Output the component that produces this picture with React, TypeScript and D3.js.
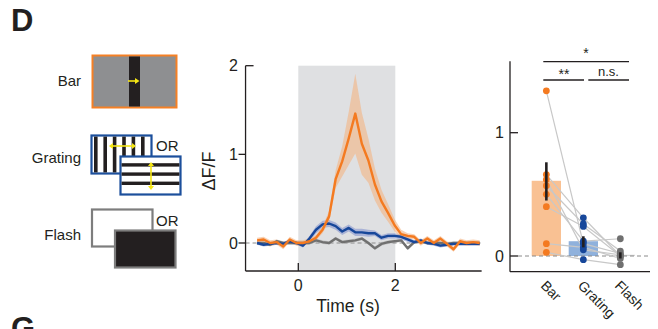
import React from "react";
import * as d3 from "d3";

// ---------- DATA ----------
const T0 = -0.85;
const DT = 0.135;
const orangeMean = [0.03, 0.04, 0.0, 0.01, -0.04, 0.04, 0.0, 0.0, 0.02, 0.06, 0.15, 0.3, 0.72, 0.92, 1.18, 1.46, 1.12, 0.93, 0.66, 0.47, 0.34, 0.2, 0.1, 0.08, 0.07, 0.0, 0.05, 0.0, 0.05, -0.01, -0.07, 0.02, 0.0, 0.01, 0.0];
const orangeSem = [0.03, 0.03, 0.03, 0.03, 0.03, 0.03, 0.03, 0.03, 0.03, 0.03, 0.04, 0.06, 0.1, 0.17, 0.3, 0.45, 0.35, 0.25, 0.18, 0.13, 0.1, 0.07, 0.05, 0.03, 0.03, 0.03, 0.03, 0.03, 0.03, 0.03, 0.03, 0.03, 0.03, 0.03, 0.03];
const blueMean = [0.0, -0.02, -0.01, 0.0, -0.01, 0.02, 0.0, -0.03, 0.05, 0.15, 0.21, 0.22, 0.19, 0.13, 0.17, 0.12, 0.12, 0.11, 0.11, 0.06, 0.08, 0.08, 0.07, 0.04, 0.01, 0.03, 0.0, -0.01, -0.03, -0.02, -0.01, -0.01, -0.01, -0.01, -0.01];
const blueSem = [0.02, 0.02, 0.02, 0.02, 0.02, 0.02, 0.02, 0.02, 0.03, 0.04, 0.04, 0.04, 0.04, 0.04, 0.04, 0.04, 0.04, 0.04, 0.03, 0.03, 0.03, 0.03, 0.03, 0.03, 0.02, 0.02, 0.02, 0.02, 0.02, 0.02, 0.02, 0.02, 0.02, 0.02, 0.02];
const grayMean = [0.0, 0.0, -0.02, 0.02, 0.0, 0.0, 0.0, 0.0, 0.0, 0.03, 0.01, 0.0, 0.05, 0.01, 0.02, 0.03, 0.05, 0.0, -0.06, -0.01, 0.01, 0.02, 0.03, -0.06, 0.01, 0.02, 0.0, 0.0, 0.0, -0.01, 0.0, 0.0, 0.0, 0.0, 0.0];
const graySem = grayMean.map(() => 0.02);
const timeTicks = [0, 2];
const dffTicks = [0, 1, 2];
const stimWindow = [0, 2];

const categories = ["Bar", "Grating", "Flash"];
const barMeans = [0.61, 0.12, 0.01];
const barErrLo = [0.45, 0.07, -0.02];
const barErrHi = [0.76, 0.16, 0.03];
const subjBar = [1.34, 0.66, 0.62, 0.57, 0.5, 0.4, 0.1, 0.03];
const subjGrating = [0.1, 0.31, 0.05, 0.26, 0.12, 0.24, 0.07, -0.03];
const subjFlash = [0.02, 0.0, 0.01, 0.04, 0.14, 0.0, -0.02, -0.07];
const rightTicks = [0, 1];
const sigLabels = ["*", "**", "n.s."];

// ---------- STYLE ----------
const ORANGE = "#f47a20";
const BLUE = "#17479a";
const GRAY = "#707070";
const FONT = "'Liberation Sans', Arial, sans-serif";

export default function App() {
  const times = orangeMean.map((_, i) => T0 + i * DT);
  const xT = d3.scaleLinear().domain([0, 2]).range([298.3, 395.3]);
  const yM = d3.scaleLinear().domain([0, 2]).range([243, 65.7]);
  const yMin = -0.316;
  const xMinT = -1.1;
  const xMaxT = 3.78;

  const line = (vals: number[]) =>
    d3.line<number>().x((_, i) => xT(times[i])).y((v) => yM(v))(vals) || "";
  const band = (vals: number[], sem: number[]) =>
    d3
      .area<number>()
      .x((_, i) => xT(times[i]))
      .y0((v, i) => yM(v - sem[i]))
      .y1((v, i) => yM(v + sem[i]))(vals) || "";

  const xB = d3.scaleBand<string>().domain(categories).range([531.7, 635]).paddingInner(0.208).paddingOuter(0);
  const yR = d3.scaleLinear().domain([0, 1]).range([256, 132.7]);
  const cx = (c: string) => (xB(c) as number) + xB.bandwidth() / 2;
  const subjects = subjBar.map((b, i) => [b, subjGrating[i], subjFlash[i]]);
  const dotColors = [ORANGE, BLUE, GRAY];
  const barFills = ["#f9c193", "#8fb1dc", "#d6d6d6"];

  const axisL = xT(xMinT) + 0.6; // ~245
  const axisR = xT(xMaxT);
  const axisBottom = yM(yMin);
  const rAxisX = 510;
  const rBottom = yR(-0.127);
  const rTop = yR(1.58);

  return (
    <svg
      width={658}
      height={329}
      style={{ position: "absolute", left: 0, top: 0, background: "#fff" }}
      fontFamily={FONT}
    >
      {/* Panel letters */}
      <text x={11} y={31} fontSize={31} fontWeight="bold" fill="#231f20">D</text>
      <text x={11} y={339} fontSize={31} fontWeight="bold" fill="#231f20">G</text>

      {/* ---- Stimulus icons ---- */}
      <g fontSize={15} fill="#231f20">
        <text x={81} y={86} textAnchor="end">Bar</text>
        <text x={81} y={163} textAnchor="end">Grating</text>
        <text x={81} y={240} textAnchor="end">Flash</text>
        <text x={156} y={151}>OR</text>
        <text x={156} y={226}>OR</text>
      </g>
      {/* Bar stimulus */}
      <rect x={92.5} y={55.5} width={84} height={52} fill="#8e8f91" stroke="#f58025" strokeWidth={2} />
      <rect x={129} y={56.5} width={11} height={50} fill="#231f20" />
      <line x1={128} x2={136} y1={81} y2={81} stroke="#f5e614" strokeWidth={1.6} />
      <path d="M135,78 L139.5,81 L135,84 Z" fill="#f5e614" />
      {/* Grating vertical */}
      <rect x={91.5} y={135.5} width={60} height={38} fill="#fff" stroke="#1c4f9c" strokeWidth={2.2} />
      {d3.range(6).map((k) => (
        <rect key={"vs" + k} x={94 + k * 9.4} y={136.6} width={3.6} height={35.8} fill="#231f20" />
      ))}
      <line x1={112} x2={133} y1={146} y2={146} stroke="#f5e614" strokeWidth={1.6} />
      <path d="M113,143 L109,146 L113,149 Z" fill="#f5e614" />
      <path d="M132,143 L136,146 L132,149 Z" fill="#f5e614" />
      {/* Grating horizontal */}
      <rect x={120.5} y={156.5} width={60} height={38} fill="#fff" stroke="#1c4f9c" strokeWidth={2.2} />
      {d3.range(3).map((k) => (
        <rect key={"hs" + k} x={121.6} y={163.2 + k * 9.2} width={57.8} height={3.4} fill="#231f20" />
      ))}
      <line x1={151} x2={151} y1={165} y2={187} stroke="#f5e614" strokeWidth={1.6} />
      <path d="M148,166 L151,162 L154,166 Z" fill="#f5e614" />
      <path d="M148,186 L151,190 L154,186 Z" fill="#f5e614" />
      {/* Flash */}
      <rect x={92} y={209.5} width={60.5} height={37} fill="#fff" stroke="#7d7d7d" strokeWidth={2.2} />
      <rect x={115} y={230.5} width={60.5} height={37} fill="#231f20" stroke="#7d7d7d" strokeWidth={2.2} />

      {/* ---- Middle time-course chart ---- */}
      <rect
        x={xT(stimWindow[0])}
        y={yM(2)}
        width={xT(stimWindow[1]) - xT(stimWindow[0])}
        height={axisBottom - yM(2)}
        fill="#dfe0e2"
      />
      <line x1={axisL} x2={axisR} y1={yM(0)} y2={yM(0)} stroke="#8a8a8a" strokeWidth={1} strokeDasharray="4,3" />
      <path d={band(grayMean, graySem)} fill="#b9b9b9" opacity={0.6} />
      <path d={band(blueMean, blueSem)} fill="#8d9bd0" opacity={0.65} />
      <path d={band(orangeMean, orangeSem)} fill="#f3b483" opacity={0.6} />
      <path d={line(grayMean)} fill="none" stroke={GRAY} strokeWidth={2.4} strokeLinejoin="round" />
      <path d={line(blueMean)} fill="none" stroke={BLUE} strokeWidth={2.4} strokeLinejoin="round" />
      <path d={line(orangeMean)} fill="none" stroke={ORANGE} strokeWidth={2.4} strokeLinejoin="round" />
      {/* axes */}
      <line x1={axisL} x2={axisL} y1={yM(2)} y2={axisBottom} stroke="#231f20" strokeWidth={1.3} />
      <line x1={axisL} x2={axisR} y1={axisBottom} y2={axisBottom} stroke="#231f20" strokeWidth={1.3} />
      {dffTicks.map((t) => (
        <g key={"yt" + t}>
          <line
            x1={t === 2 ? axisL : axisL - 7}
            x2={t === 2 ? axisL + 8 : axisL}
            y1={yM(t)}
            y2={yM(t)}
            stroke="#231f20"
            strokeWidth={1.3}
          />
          <text x={238} y={yM(t) + 5.5} textAnchor="end" fontSize={16} fill="#231f20">{t}</text>
        </g>
      ))}
      {timeTicks.map((t) => (
        <g key={"xt" + t}>
          <line x1={xT(t)} x2={xT(t)} y1={axisBottom} y2={axisBottom - 8} stroke="#231f20" strokeWidth={1.3} />
          <text x={xT(t)} y={291} textAnchor="middle" fontSize={16} fill="#231f20">{t}</text>
        </g>
      ))}
      <text x={348} y={312} textAnchor="middle" fontSize={17.5} fill="#231f20">Time (s)</text>
      <text
        transform={`translate(215,171) rotate(-90)`}
        textAnchor="middle"
        fontSize={18}
        fill="#231f20"
      >
        ΔF/F
      </text>

      {/* ---- Right bar chart ---- */}
      {categories.map((c, i) => (
        <rect
          key={"bar" + c}
          x={xB(c)}
          y={yR(Math.max(barMeans[i], 0))}
          width={xB.bandwidth()}
          height={Math.abs(yR(barMeans[i]) - yR(0))}
          fill={barFills[i]}
        />
      ))}
      <line x1={rAxisX + 8} x2={650} y1={yR(0)} y2={yR(0)} stroke="#8a8a8a" strokeWidth={1} strokeDasharray="4,3" />
      {subjects.map((s, i) => (
        <path
          key={"subj" + i}
          d={d3.line<number>().x((_, k) => cx(categories[k])).y((v) => yR(v))(s) || ""}
          fill="none"
          stroke="#c8c8c8"
          strokeWidth={1.2}
        />
      ))}
      {subjects.map((s, i) =>
        s.map((v, k) => (
          <circle key={`dot${i}-${k}`} cx={cx(categories[k])} cy={yR(v)} r={3.4} fill={dotColors[k]} />
        ))
      )}
      {categories.map((c, i) => (
        <line
          key={"err" + c}
          x1={cx(c)}
          x2={cx(c)}
          y1={yR(barErrLo[i])}
          y2={yR(barErrHi[i])}
          stroke="#231f20"
          strokeWidth={2.6}
        />
      ))}
      <line x1={rAxisX} x2={rAxisX} y1={rTop} y2={rBottom} stroke="#231f20" strokeWidth={1.3} />
      <line x1={rAxisX} x2={650} y1={rBottom} y2={rBottom} stroke="#231f20" strokeWidth={1.3} />
      {rightTicks.map((t) => (
        <g key={"rt" + t}>
          <line x1={rAxisX} x2={rAxisX + 8} y1={yR(t)} y2={yR(t)} stroke="#231f20" strokeWidth={1.3} />
          <text x={504} y={yR(t) + 5.5} textAnchor="end" fontSize={16} fill="#231f20">{t}</text>
        </g>
      ))}
      {categories.map((c) => (
        <text
          key={"lab" + c}
          transform={`translate(${cx(c) - 3},${283}) rotate(45)`}
          fontSize={14}
          fill="#231f20"
          dy="0.35em"
        >
          {c}
        </text>
      ))}
      {/* significance brackets */}
      <line x1={543.3} x2={629} y1={61.7} y2={61.7} stroke="#231f20" strokeWidth={1.3} />
      <line x1={543.3} x2={584} y1={80} y2={80} stroke="#231f20" strokeWidth={1.3} />
      <line x1={588.3} x2={629} y1={80} y2={80} stroke="#231f20" strokeWidth={1.3} />
      <text x={586} y={58} textAnchor="middle" fontSize={14} fill="#231f20">{sigLabels[0]}</text>
      <text x={564} y={79} textAnchor="middle" fontSize={14} fill="#231f20">{sigLabels[1]}</text>
      <text x={608.5} y={76} textAnchor="middle" fontSize={13} fill="#231f20">{sigLabels[2]}</text>
    </svg>
  );
}
